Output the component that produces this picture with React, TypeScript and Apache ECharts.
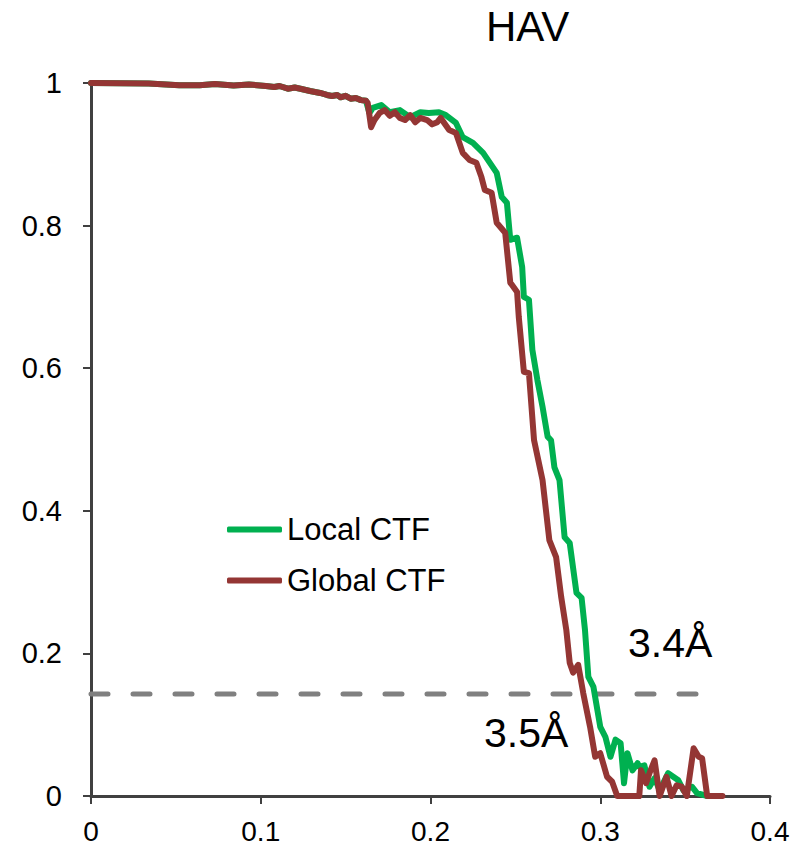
import React, { useEffect, useRef } from "react";
import * as echarts from "echarts";

const xTicks = [0, 0.1, 0.2, 0.3, 0.4];
const yTicks = [0, 0.2, 0.4, 0.6, 0.8, 1];

const localFreq = [
  0, 0.034, 0.052, 0.064, 0.073, 0.084, 0.093, 0.103, 0.108, 0.111, 0.116, 0.12, 0.124, 0.129, 0.135,
  0.139, 0.142, 0.145, 0.147, 0.15, 0.153, 0.156, 0.159, 0.162, 0.164, 0.166, 0.171, 0.176, 0.182,
  0.188, 0.194, 0.199, 0.205, 0.209, 0.215, 0.219, 0.225, 0.231, 0.235, 0.239, 0.242, 0.245, 0.247,
  0.251, 0.254, 0.255, 0.258, 0.26, 0.263, 0.266, 0.269, 0.271, 0.273, 0.276, 0.279, 0.282, 0.286,
  0.289, 0.291, 0.293, 0.296, 0.3, 0.303, 0.306, 0.309, 0.312, 0.314, 0.316, 0.319, 0.322, 0.323,
  0.326, 0.329, 0.332, 0.335, 0.34, 0.343, 0.346, 0.349, 0.354, 0.357, 0.363,
];
const localFsc = [
  1, 0.9993, 0.997, 0.997, 0.9986, 0.9965, 0.998, 0.9958, 0.9944, 0.9958, 0.992, 0.9937, 0.9916,
  0.9888, 0.986, 0.9832, 0.9818, 0.9832, 0.98, 0.982, 0.978, 0.979, 0.976, 0.975, 0.958, 0.965,
  0.969, 0.959, 0.962, 0.952, 0.959, 0.958, 0.959, 0.955, 0.944, 0.924, 0.916, 0.902, 0.888, 0.874,
  0.84, 0.832, 0.78, 0.783, 0.742, 0.7, 0.696, 0.626, 0.583, 0.546, 0.504, 0.499, 0.461, 0.443,
  0.363, 0.355, 0.285, 0.278, 0.233, 0.167, 0.153, 0.097, 0.083, 0.055, 0.079, 0.074, 0.018, 0.06,
  0.036, 0.046, 0.041, 0.043, 0.013, 0.025, 0.008, 0.032, 0.027, 0.022, 0.008, 0.013, 0.004, 0,
];

const globalFreq = [
  0, 0.034, 0.052, 0.064, 0.073, 0.084, 0.093, 0.103, 0.108, 0.111, 0.116, 0.12, 0.124, 0.129, 0.135,
  0.139, 0.142, 0.145, 0.147, 0.15, 0.153, 0.156, 0.159, 0.162, 0.163, 0.165, 0.167, 0.17, 0.173,
  0.176, 0.179, 0.182, 0.185, 0.188, 0.191, 0.194, 0.198, 0.201, 0.204, 0.206, 0.211, 0.215, 0.219,
  0.223, 0.227, 0.23, 0.232, 0.236, 0.239, 0.244, 0.247, 0.251, 0.252, 0.255, 0.258, 0.261, 0.266,
  0.27, 0.274, 0.277, 0.28, 0.282, 0.284, 0.287, 0.29, 0.294, 0.297, 0.3, 0.304, 0.307, 0.31, 0.323,
  0.324, 0.327, 0.329, 0.332, 0.335, 0.339, 0.342, 0.345, 0.348, 0.351, 0.355, 0.358, 0.36, 0.363,
  0.372,
];
const globalFsc = [
  1, 0.9993, 0.997, 0.997, 0.9986, 0.9965, 0.998, 0.9958, 0.9944, 0.9958, 0.992, 0.9937, 0.9916,
  0.9888, 0.986, 0.9832, 0.9818, 0.9832, 0.98, 0.982, 0.978, 0.979, 0.976, 0.975, 0.972, 0.938,
  0.948, 0.958, 0.962, 0.954, 0.959, 0.951, 0.948, 0.955, 0.945, 0.951, 0.948, 0.942, 0.945, 0.951,
  0.934, 0.93, 0.902, 0.892, 0.888, 0.868, 0.85, 0.846, 0.804, 0.79, 0.72, 0.707, 0.672, 0.595,
  0.593, 0.499, 0.443, 0.359, 0.335, 0.279, 0.233, 0.187, 0.173, 0.184, 0.144, 0.097, 0.055, 0.06,
  0.027, 0.02, 0, 0, 0.036, 0.018, 0.032, 0.05, 0, 0.027, 0, 0.015, 0.013, 0, 0.067, 0.055, 0.053,
  0, 0,
];

const thresholdFreq = [0, 0.36];
const thresholdValue = 0.143;

const FONT = "'Liberation Sans', Arial, sans-serif";

export default function App() {
  const ref = useRef<HTMLDivElement>(null);
  useEffect(() => {
    if (!ref.current) return;
    const chart = echarts.init(ref.current, undefined, { renderer: "svg" });
    const pair = (xs: number[], ys: number[]) => xs.map((x, i) => [x, ys[i]]);
    chart.setOption({
      animation: false,
      backgroundColor: "#ffffff",
      textStyle: { fontFamily: FONT },
      title: {
        text: "HAV",
        left: 486,
        top: 5,
        padding: 0,
        textStyle: { fontSize: 42, fontWeight: "normal", color: "#000", fontFamily: FONT },
      },
      grid: { left: 91, right: 28, top: 83, bottom: 51, containLabel: false },
      legend: {
        orient: "vertical",
        left: 227,
        top: 514,
        padding: 0,
        itemWidth: 55,
        itemHeight: 6,
        itemGap: 20,
        icon: "roundRect",
        data: ["Local CTF", "Global CTF"],
        textStyle: { fontSize: 31, color: "#000", fontFamily: FONT, lineHeight: 31, padding: [0, 0, 0, 0] },
      },
      xAxis: {
        type: "value",
        min: xTicks[0],
        max: xTicks[xTicks.length - 1],
        interval: 0.1,
        splitLine: { show: false },
        axisLine: { show: true, lineStyle: { color: "#404040", width: 3 } },
        axisTick: { show: true, length: 8, lineStyle: { color: "#404040", width: 2 } },
        axisLabel: { fontSize: 28, color: "#000", margin: 21, fontFamily: FONT },
      },
      yAxis: {
        type: "value",
        min: yTicks[0],
        max: yTicks[yTicks.length - 1],
        interval: 0.2,
        splitLine: { show: false },
        axisLine: { show: true, lineStyle: { color: "#404040", width: 3 } },
        axisTick: { show: true, length: 8, lineStyle: { color: "#404040", width: 2 } },
        axisLabel: { fontSize: 29, color: "#000", margin: 29, fontFamily: FONT },
      },
      series: [
        {
          name: "threshold",
          type: "line",
          data: thresholdFreq.map((x) => [x, thresholdValue]),
          symbol: "none",
          lineStyle: { color: "#808080", width: 5, type: [17, 25], cap: "round" },
          z: 1,
          silent: true,
        },
        {
          name: "Local CTF",
          type: "line",
          data: pair(localFreq, localFsc),
          symbol: "none",
          itemStyle: { color: "#00B050" },
          lineStyle: { color: "#00B050", width: 6, cap: "round", join: "round" },
          z: 2,
        },
        {
          name: "Global CTF",
          type: "line",
          data: pair(globalFreq, globalFsc),
          symbol: "none",
          itemStyle: { color: "#943634" },
          lineStyle: { color: "#943634", width: 6, cap: "round", join: "round" },
          z: 3,
        },
      ],
      graphic: [
        {
          type: "text",
          x: 628,
          y: 643,
          style: { text: "3.4Å", fontSize: 41, fill: "#000", fontFamily: FONT, verticalAlign: "middle" },
        },
        {
          type: "text",
          x: 484,
          y: 733,
          style: { text: "3.5Å", fontSize: 41, fill: "#000", fontFamily: FONT, verticalAlign: "middle" },
        },
      ],
    });
    return () => chart.dispose();
  }, []);
  return (
    <div
      ref={ref}
      style={{ position: "absolute", left: 0, top: 0, width: 798, height: 847 }}
    />
  );
}
